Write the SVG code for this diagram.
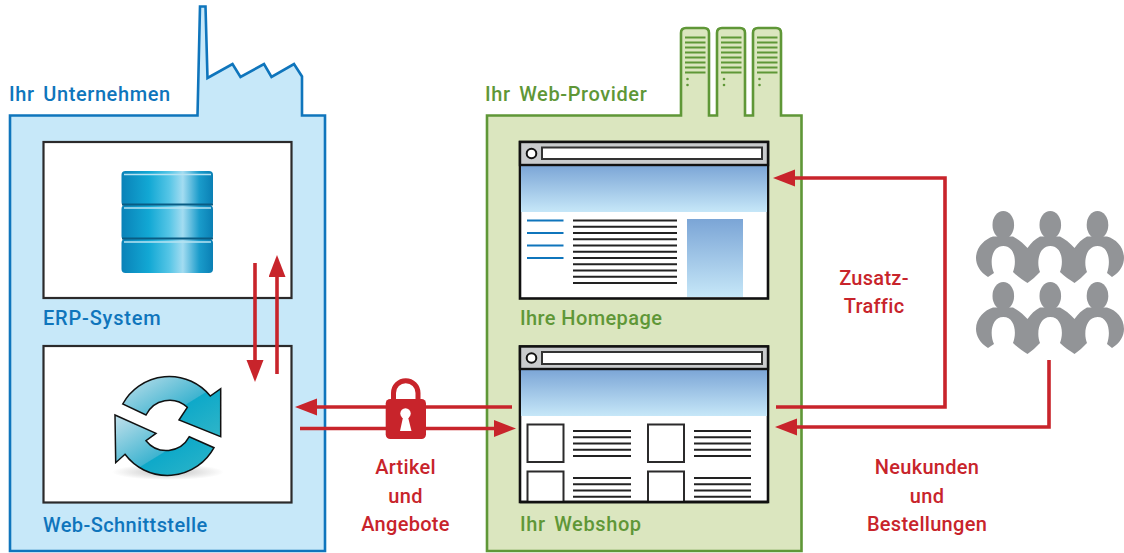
<svg xmlns="http://www.w3.org/2000/svg" xmlns:xlink="http://www.w3.org/1999/xlink" width="1124" height="553" viewBox="0 0 1124 553">
<style>
text{font-family:"Roboto","Liberation Sans",sans-serif;font-weight:500;font-size:20px;letter-spacing:.4px}
.b{fill:#0f75bc}.g{fill:#5f9737}.r{fill:#c8242b;text-anchor:middle;letter-spacing:.3px}
.hd{letter-spacing:.6px;word-spacing:3px}
.box{fill:#fff;stroke:#2b2a2b;stroke-width:2.2}
.win{fill:#fff;stroke:#111;stroke-width:2.6}
.bar{fill:#c9cbcd;stroke:#111;stroke-width:2.4}
.addr{fill:#fff;stroke:#333;stroke-width:2}
.ln{stroke:#222;stroke-width:2;fill:none}
.lb{stroke:#0f75bc;stroke-width:2;fill:none}
.sq{fill:#fff;stroke:#2b2a2b;stroke-width:2}
.sl{stroke:#5f9737;stroke-width:2;fill:none}
.con{fill:none;stroke:#c8242b;stroke-width:3.6;marker-end:url(#ah)}
#people-row{fill:#929497}
</style>
<defs>
<marker id="ah" markerUnits="userSpaceOnUse" markerWidth="24" markerHeight="18" refX="12" refY="8.5" orient="auto"><path d="M0,0L22,8.5L0,17Z" fill="#c8242b"/></marker>
<linearGradient id="sky" x1="0" y1="0" x2="0" y2="1"><stop offset="0" stop-color="#7ba5d6"/><stop offset="1" stop-color="#c6e7f8"/></linearGradient>
<linearGradient id="cyl" x1="0" y1="0" x2="1" y2="0"><stop offset="0" stop-color="#0a82b8"/><stop offset=".3" stop-color="#12a8d4"/><stop offset=".52" stop-color="#55c5e6"/><stop offset=".67" stop-color="#a3dcf1"/><stop offset=".85" stop-color="#1a9ccb"/><stop offset="1" stop-color="#0a7fb4"/></linearGradient>
<linearGradient id="sync" x1="0" y1="0" x2="1" y2="1"><stop offset="0" stop-color="#c3e1ec"/><stop offset=".55" stop-color="#3fb4d0"/><stop offset=".56" stop-color="#0ea9c9"/><stop offset="1" stop-color="#30b5c8"/></linearGradient>
<radialGradient id="sh"><stop offset="0" stop-color="#999" stop-opacity=".6"/><stop offset="1" stop-color="#999" stop-opacity="0"/></radialGradient>
</defs>
<g id="unternehmen">
<path d="M10,115.500H197.500L200,6.500H205.500L207.500,78L232.500,64L240.500,77L264,64L271.500,77L294,64L302,76.500V115.500H325V551H10Z" fill="#c7e8f9" stroke="#0f75bc" stroke-width="2.6"/>
<text class="b hd" x="9" y="100.500">Ihr Unternehmen</text>
</g>
<g id="erp">
<rect class="box" x="43.500" y="142" width="248" height="156"/>
<rect x="121.500" y="171" width="91.500" height="35" rx="4" fill="url(#cyl)"/>
<rect x="121.500" y="205" width="91.500" height="35" rx="4" fill="url(#cyl)"/>
<rect x="121.500" y="239" width="91.500" height="34" rx="4" fill="url(#cyl)"/>
<path d="M122,204.500H213M122,238.500H213" stroke="#0a5c83" stroke-width="1.800"/>
<path d="M124,174.500H211M124,208H211M124,242H211" stroke="#b8e3f2" stroke-width="1.400"/>
<text class="b" x="43" y="325" style="letter-spacing:.8px">ERP-System</text>
</g>
<g id="schnittstelle">
<rect class="box" x="43.500" y="346" width="248" height="156.500"/>
<ellipse cx="168" cy="472" rx="56" ry="8" fill="url(#sh)"/>
<path d="M122.700,404A53,53 0 0 1 210.300,396L220.700,388.700V436.700L179,420L187.300,407.300A26,26 0 0 0 146,415Z" fill="url(#sync)" stroke="#111" stroke-width="1.500"/>
<path d="M115,415L156,433.300L146,440.700A26,26 0 0 0 189.300,436.700L214,447.700A53,53 0 0 1 125,454.300L115.700,462.700Z" fill="url(#sync)" stroke="#111" stroke-width="1.500"/>
<text class="b" x="43" y="532">Web-Schnittstelle</text>
</g>
<g id="provider">
<path d="M487,115.500H681V33Q681,28 686,28H704Q709,28 709,33V115.500H717V33Q717,28 722,28H740Q745,28 745,33V115.500H753V33Q753,28 758,28H776Q781,28 781,33V115.500H801.500V551H487Z" fill="#dbe6bf" stroke="#5f9737" stroke-width="2.600"/>
<path class="sl" d="M685,37.500H705.500M685,42.500H705.500M685,47.500H705.500M685,52.500H705.500M685,57.500H705.500M685,62.500H705.500M685,67.500H705.500M685,72.500H705.500M721,37.500H741.500M721,42.500H741.500M721,47.500H741.500M721,52.500H741.500M721,57.500H741.500M721,62.500H741.500M721,67.500H741.500M721,72.500H741.500M757,37.500H777.500M757,42.500H777.500M757,47.500H777.500M757,52.500H777.500M757,57.500H777.500M757,62.500H777.500M757,67.500H777.500M757,72.500H777.500"/>
<g fill="#5f9737"><circle cx="687.500" cy="79" r="1.300"/><circle cx="687.500" cy="85" r="1.300"/><circle cx="724" cy="79" r="1.300"/><circle cx="724" cy="85" r="1.300"/><circle cx="759.500" cy="79" r="1.300"/><circle cx="759.500" cy="85" r="1.300"/></g>
<text class="g hd" x="485" y="100.500">Ihr Web-Provider</text>
</g>
<g id="homepage">
<rect class="win" x="520" y="142" width="248" height="156.500"/>
<rect x="521" y="165" width="246" height="47" fill="url(#sky)"/>
<rect class="bar" x="520" y="142" width="248" height="23"/>
<rect class="addr" x="542" y="147.500" width="220" height="11.500"/>
<circle cx="531.500" cy="153.500" r="4.800" fill="#fff" stroke="#111" stroke-width="2"/>
<path class="lb" d="M527,220.500H563.500M527,233H563.500M527,245.500H563.500M527,258H563.500"/>
<path class="ln" d="M573,220.500H677M573,226.800H677M573,233H677M573,239.200H677M573,245.500H677M573,251.700H677M573,258H677M573,264.200H677M573,270.500H677M573,276.700H677M573,283H677"/>
<rect x="687" y="219" width="56" height="78" fill="url(#sky)"/>
<text class="g" x="520" y="325">Ihre Homepage</text>
</g>
<g id="webshop">
<rect class="win" x="520" y="346.500" width="248" height="155.500"/>
<rect x="521" y="369" width="246" height="47" fill="url(#sky)"/>
<rect class="bar" x="520" y="346.500" width="248" height="22.500"/>
<rect class="addr" x="542" y="352" width="220" height="12"/>
<circle cx="531.500" cy="358" r="4.800" fill="#fff" stroke="#111" stroke-width="2"/>
<rect class="sq" x="527.500" y="424.500" width="36" height="37.500"/>
<rect class="sq" x="648" y="424.500" width="36" height="37.500"/>
<path class="sq" d="M527.500,502V471.500H563.500V502M648,502V471.500H684V502"/>
<path class="ln" d="M573,431H631M573,437.300H631M573,443.500H631M573,449.800H631M573,456H631M573,478H631M573,484.300H631M573,490.500H631M573,496.800H631M694,431H751M694,437.300H751M694,443.500H751M694,449.800H751M694,456H751M694,478H751M694,484.300H751M694,490.500H751M694,496.800H751"/>
<path d="M520,502H768" stroke="#111" stroke-width="2.600"/>
<text class="g hd" x="520" y="531">Ihr Webshop</text>
</g>
<g id="kunden">
<g id="people-row"><ellipse cx="1003.300" cy="225" rx="10.800" ry="14"/>
<ellipse cx="1050.300" cy="225" rx="10.800" ry="14"/>
<ellipse cx="1097.500" cy="225" rx="10.800" ry="14"/>
<path d="M988,277C980,272 976,265 976,258C976,247 985,239 993,236.500L1013,236.500C1018,239 1023,243 1027.500,248C1031,243 1035,239 1040,236.500L1060,236.500C1065,239 1070,243 1074.500,248C1078,243 1082,239 1087,236.500L1107,236.500C1116,239 1124,247 1124,258C1124,265 1120,272 1112,277L1107,273C1111,262 1109,246 1097.500,246C1086,246 1083,262 1087,272C1083,276 1079,280 1074.500,283C1070,280 1064,276 1060,272C1064,262 1062,246 1050.300,246C1039,246 1036,262 1040,272C1036,276 1032,280 1027.500,283C1023,280 1017,276 1013,272C1017,262 1015,246 1003.300,246C992,246 989,262 994,273Z"/></g>
<use xlink:href="#people-row" href="#people-row" y="71"/>
</g>
<g id="connectors">
<path class="con" d="M255,263V372"/>
<path class="con" d="M277,374V265"/>
<path class="con" d="M512,407H305"/>
<path class="con" d="M300,428.500H506"/>
<path class="con" d="M776,407H945V178H783"/>
<path class="con" d="M1049,360V427H785"/>
</g>
<g id="schloss">
<path d="M393.500,402V393A12.200,12.200 0 0 1 418,393V402" fill="none" stroke="#c8242b" stroke-width="5"/>
<rect x="385.700" y="399" width="40.300" height="40" rx="4.500" fill="#c8242b"/>
<circle cx="405.500" cy="413.500" r="5.200" fill="#fff"/>
<path d="M403.500,415L400,431H411.500L407.500,415Z" fill="#fff"/>
</g>
<g id="labels">
<text class="r" x="874" y="285">Zusatz-</text>
<text class="r" x="874" y="313">Traffic</text>
<text class="r" x="405.500" y="474">Artikel</text>
<text class="r" x="405.500" y="503">und</text>
<text class="r" x="405.500" y="531">Angebote</text>
<text class="r" x="927" y="474">Neukunden</text>
<text class="r" x="927" y="503">und</text>
<text class="r" x="927" y="531">Bestellungen</text>
</g>
</svg>
